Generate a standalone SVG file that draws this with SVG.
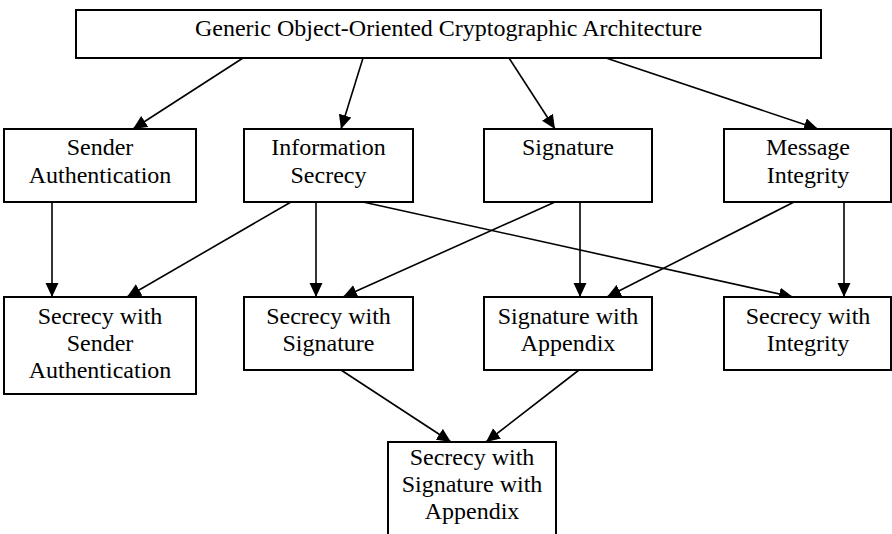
<svg xmlns="http://www.w3.org/2000/svg" width="892" height="534" viewBox="0 0 892 534">
<style>
.box{fill:#fff;stroke:#000;stroke-width:2}
.t{font-family:"Liberation Serif","Times New Roman",serif;font-size:24px;fill:#000;text-anchor:middle}
.e line{stroke:#000;stroke-width:1.6;marker-end:url(#ah)}
</style>
<defs>
<marker id="ah" markerUnits="userSpaceOnUse" viewBox="0 0 14 14" refX="14" refY="7" markerWidth="14" markerHeight="14" orient="auto">
<path d="M0,0.5 L14,7 L0,13.5 z" fill="#000"/>
</marker>
</defs>
<rect width="892" height="534" fill="#fff"/>
<g id="connectors" class="e">
<line x1="243" y1="58" x2="133" y2="129"/>
<line x1="363" y1="58" x2="341" y2="129"/>
<line x1="509" y1="58" x2="555" y2="129"/>
<line x1="606" y1="58" x2="818" y2="129"/>
<line x1="52" y1="202" x2="52" y2="297"/>
<line x1="291" y1="202" x2="127" y2="297"/>
<line x1="316" y1="202" x2="316" y2="297"/>
<line x1="363" y1="202" x2="793" y2="297"/>
<line x1="555" y1="202" x2="343" y2="297"/>
<line x1="580" y1="202" x2="580" y2="297"/>
<line x1="794" y1="202" x2="607" y2="297"/>
<line x1="844" y1="202" x2="844" y2="297"/>
<line x1="341" y1="370" x2="451" y2="442"/>
<line x1="579" y1="370" x2="486" y2="442"/>
</g>
<g id="root"><rect class="box" x="76" y="10" width="745" height="48"/><text class="t" x="448.5" y="36">Generic Object-Oriented Cryptographic Architecture</text></g>
<g id="sender"><rect class="box" x="4" y="129" width="192" height="73"/><text class="t" x="100" y="155">Sender</text><text class="t" x="100" y="183">Authentication</text></g>
<g id="secrecy"><rect class="box" x="244" y="129" width="169" height="73"/><text class="t" x="328.5" y="155">Information</text><text class="t" x="328.5" y="183">Secrecy</text></g>
<g id="signature"><rect class="box" x="484" y="129" width="168" height="73"/><text class="t" x="568" y="155">Signature</text></g>
<g id="integrity"><rect class="box" x="724" y="129" width="167" height="73"/><text class="t" x="808" y="155">Message</text><text class="t" x="808" y="183">Integrity</text></g>
<g id="secrecy-sender"><rect class="box" x="4" y="297" width="192" height="97"/><text class="t" x="100" y="324">Secrecy with</text><text class="t" x="100" y="351">Sender</text><text class="t" x="100" y="378">Authentication</text></g>
<g id="secrecy-signature"><rect class="box" x="244" y="297" width="169" height="73"/><text class="t" x="328.5" y="324">Secrecy with</text><text class="t" x="328.5" y="351">Signature</text></g>
<g id="signature-appendix"><rect class="box" x="484" y="297" width="168" height="73"/><text class="t" x="568" y="324">Signature with</text><text class="t" x="568" y="351">Appendix</text></g>
<g id="secrecy-integrity"><rect class="box" x="724" y="297" width="167" height="73"/><text class="t" x="808" y="324">Secrecy with</text><text class="t" x="808" y="351">Integrity</text></g>
<g id="secrecy-signature-appendix"><rect class="box" x="388" y="442" width="168" height="100"/><text class="t" x="472" y="465">Secrecy with</text><text class="t" x="472" y="492">Signature with</text><text class="t" x="472" y="519">Appendix</text></g>
</svg>
